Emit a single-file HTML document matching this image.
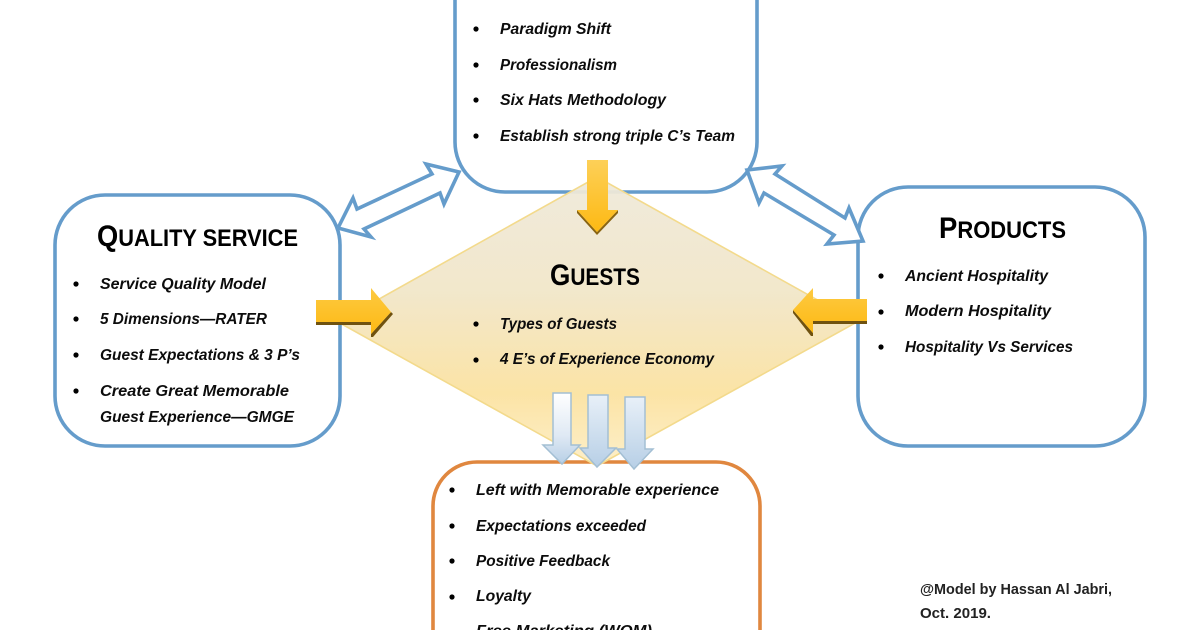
<!DOCTYPE html>
<html>
<head>
<meta charset="utf-8">
<style>
html,body{margin:0;padding:0;background:#fff;width:1200px;height:630px;overflow:hidden}
svg{display:block}
text{font-family:"Liberation Sans",sans-serif;fill:#0c0c0c}
.i{font-size:16px;font-weight:bold;font-style:italic}
.h{font-weight:bold;fill:#000}
.c{font-size:15px;font-weight:bold;fill:#222}
.bx{fill:#fff;stroke:#659ccb;stroke-width:3.6}
.da{fill:#fff;stroke:#659ccb;stroke-width:3.6;stroke-linejoin:miter}
</style>
</head>
<body>
<svg width="1200" height="630" viewBox="0 0 1200 630" xmlns="http://www.w3.org/2000/svg">
<defs>
<linearGradient id="dg" x1="0" y1="0" x2="0" y2="1">
<stop offset="0" stop-color="#efe9da"/>
<stop offset="0.4" stop-color="#f1e6c8"/>
<stop offset="0.75" stop-color="#fbe2a0"/>
<stop offset="1" stop-color="#fdeec6"/>
</linearGradient>
<linearGradient id="gh" x1="0" y1="0" x2="0" y2="1">
<stop offset="0" stop-color="#fdca42"/>
<stop offset="1" stop-color="#fdb913"/>
</linearGradient>
<linearGradient id="gv" x1="0" y1="0" x2="0" y2="1">
<stop offset="0" stop-color="#fdd058"/>
<stop offset="1" stop-color="#fdb913"/>
</linearGradient>
<linearGradient id="w1" x1="0" y1="0" x2="0" y2="1">
<stop offset="0" stop-color="#ffffff"/>
<stop offset="0.6" stop-color="#dfe9f4"/>
<stop offset="1" stop-color="#b7cfe6"/>
</linearGradient>
<linearGradient id="w2" x1="0" y1="0" x2="0" y2="1">
<stop offset="0" stop-color="#e8f0f8"/>
<stop offset="1" stop-color="#b7cfe6"/>
</linearGradient>
</defs>

<!-- boxes -->
<path class="bx" d="M455,0 V142 A50,50 0 0 0 505,192 H707 A50,50 0 0 0 757,142 V0"/>
<rect class="bx" x="55" y="195" width="285" height="251" rx="50" ry="50"/>
<rect class="bx" x="858" y="187" width="287" height="259" rx="50" ry="50"/>
<path d="M433,630 V506 A44,44 0 0 1 477,462 H716 A44,44 0 0 1 760,506 V630" fill="#fff" stroke="#e0873f" stroke-width="3.6"/>

<!-- diamond -->
<polygon points="597,177 857,322 597,466 338,322" fill="url(#dg)" fill-opacity="0.94" stroke="#f3da8c" stroke-width="1.6"/>

<!-- double arrows -->
<polygon class="da" points="338,228 353,198 357,209 432,174 426,164 459,172 444,204 440,193 364,229 371,237"/>
<polygon class="da" points="747,170 782,166 775,174 845,218 849,208 863,241 827,244 834,235 764,193 759,203"/>

<!-- yellow arrows -->
<polygon points="316,322 371,322 371,325 316,325" fill="#6f5210"/>
<polygon points="371,334 391,312 393,314 373,337 371,337" fill="#6f5210"/>
<polygon points="316,300 371,300 371,288 391,312 371,334 371,322 316,322" fill="url(#gh)"/>
<polygon points="813,321 867,321 867,324 813,324" fill="#6f5210"/>
<polygon points="793,310 813,333 813,336 811,336 793,313" fill="#6f5210"/>
<polygon points="793,310 813,288 813,299 867,299 867,321 813,321 813,333" fill="url(#gh)"/>
<polygon points="577,210 597,232 618,210 618,213 597,235 577,213" fill="#8a6512"/>
<polygon points="587,160 608,160 608,210 618,210 597,232 577,210 587,210" fill="url(#gv)"/>

<!-- white arrows -->
<polygon points="553,393 571,393 571,445 580,445 562,464 543,445 553,445" fill="url(#w1)" stroke="#a3bfd4" stroke-width="1.5"/>
<polygon points="588,395 608,395 608,448 616,448 597,467 580,448 588,448" fill="url(#w2)" stroke="#a3bfd4" stroke-width="1.5"/>
<polygon points="625,397 645,397 645,449 653,449 634,469 617,449 625,449" fill="url(#w2)" stroke="#a3bfd4" stroke-width="1.5"/>

<!-- bullets -->
<g fill="#000">
<circle cx="476" cy="29" r="2.6"/><circle cx="476" cy="65" r="2.6"/><circle cx="476" cy="100" r="2.6"/><circle cx="476" cy="136" r="2.6"/>
<circle cx="76" cy="284" r="2.6"/><circle cx="76" cy="319" r="2.6"/><circle cx="76" cy="355" r="2.6"/><circle cx="76" cy="391" r="2.6"/>
<circle cx="881" cy="276" r="2.6"/><circle cx="881" cy="312" r="2.6"/><circle cx="881" cy="347" r="2.6"/>
<circle cx="476" cy="324" r="2.6"/><circle cx="476" cy="360" r="2.6"/>
<circle cx="452" cy="490" r="2.6"/><circle cx="452" cy="526" r="2.6"/><circle cx="452" cy="561" r="2.6"/><circle cx="452" cy="597" r="2.6"/>
</g>

<!-- top -->
<text class="i" x="500" y="34" textLength="111" lengthAdjust="spacingAndGlyphs">Paradigm Shift</text>
<text class="i" x="500" y="70" textLength="117" lengthAdjust="spacingAndGlyphs">Professionalism</text>
<text class="i" x="500" y="105" textLength="166" lengthAdjust="spacingAndGlyphs">Six Hats Methodology</text>
<text class="i" x="500" y="141" textLength="235" lengthAdjust="spacingAndGlyphs">Establish strong triple C’s Team</text>

<!-- left -->
<text class="h" x="97" y="246" textLength="201" lengthAdjust="spacingAndGlyphs" font-size="24"><tspan font-size="30">Q</tspan>UALITY SERVICE</text>
<text class="i" x="100" y="289" textLength="166" lengthAdjust="spacingAndGlyphs">Service Quality Model</text>
<text class="i" x="100" y="324" textLength="167" lengthAdjust="spacingAndGlyphs">5 Dimensions—RATER</text>
<text class="i" x="100" y="360" textLength="200" lengthAdjust="spacingAndGlyphs">Guest Expectations &amp; 3 P’s</text>
<text class="i" x="100" y="396" textLength="189" lengthAdjust="spacingAndGlyphs">Create Great Memorable</text>
<text class="i" x="100" y="422" textLength="194" lengthAdjust="spacingAndGlyphs">Guest Experience—GMGE</text>

<!-- right -->
<text class="h" x="939" y="238" textLength="127" lengthAdjust="spacingAndGlyphs" font-size="24"><tspan font-size="30">P</tspan>RODUCTS</text>
<text class="i" x="905" y="281" textLength="143" lengthAdjust="spacingAndGlyphs">Ancient Hospitality</text>
<text class="i" x="905" y="316" textLength="146" lengthAdjust="spacingAndGlyphs">Modern Hospitality</text>
<text class="i" x="905" y="352" textLength="168" lengthAdjust="spacingAndGlyphs">Hospitality Vs Services</text>

<!-- center -->
<text class="h" x="550" y="285" textLength="90" lengthAdjust="spacingAndGlyphs" font-size="24"><tspan font-size="30">G</tspan>UESTS</text>
<text class="i" x="500" y="329" textLength="117" lengthAdjust="spacingAndGlyphs">Types of Guests</text>
<text class="i" x="500" y="364" textLength="214" lengthAdjust="spacingAndGlyphs">4 E’s of Experience Economy</text>

<!-- bottom -->
<text class="i" x="476" y="495" textLength="243" lengthAdjust="spacingAndGlyphs">Left with Memorable experience</text>
<text class="i" x="476" y="531" textLength="170" lengthAdjust="spacingAndGlyphs">Expectations exceeded</text>
<text class="i" x="476" y="566" textLength="134" lengthAdjust="spacingAndGlyphs">Positive Feedback</text>
<text class="i" x="476" y="601" textLength="55" lengthAdjust="spacingAndGlyphs">Loyalty</text>
<text class="i" x="476" y="636" textLength="176" lengthAdjust="spacingAndGlyphs">Free Marketing (WOM)</text>

<!-- credit -->
<text class="c" x="920" y="594" textLength="192" lengthAdjust="spacingAndGlyphs">@Model by Hassan Al Jabri,</text>
<text class="c" x="920" y="618" textLength="71" lengthAdjust="spacingAndGlyphs">Oct. 2019.</text>
</svg>
</body>
</html>
